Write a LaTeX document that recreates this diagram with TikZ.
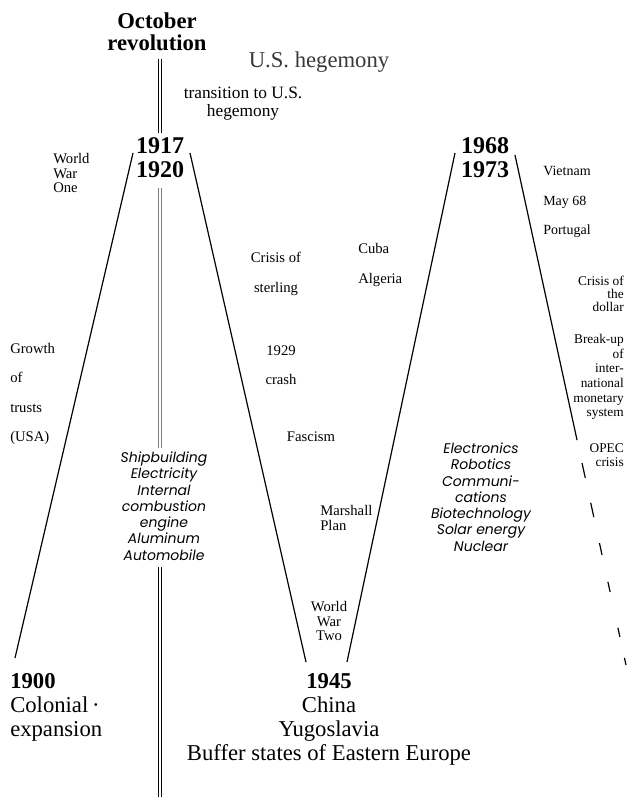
\documentclass[tikz,border=0pt]{standalone}
\usepackage{fontspec}
\setmainfont{Liberation Serif}
\newfontfamily\techfont{Poppins}
\usetikzlibrary{calc}
\begin{document}
\begin{tikzpicture}[x=0.75pt,y=-0.75pt,
    every node/.style={inner sep=0pt},
    trend/.style={line width=0.9pt},
    rail/.style={line width=0.7pt},
    date/.style={align=center,font=\fontsize{18}{18}\selectfont\bfseries},
    big/.style={font=\fontsize{17}{18}\selectfont},
    note/.style={font=\fontsize{11}{11}\selectfont},
    spaced/.style={font=\fontsize{11}{22}\selectfont},
    tech/.style={align=center,font=\techfont\itshape\fontsize{10.5}{12.2}\selectfont}]
    \useasboundingbox (0,0) rectangle (626,797);
    \node[align=center,font=\fontsize{17}{16.5}\selectfont\bfseries] (rev) at (157,32) {October\\revolution};
    \node[big,text=black!78] (hegemony) at (319,62) {U.S. hegemony};
    \node[align=center,font=\fontsize{13}{13.5}\selectfont] (transition) at (243,104) {transition to U.S.\\hegemony};
    \node[date] (d1917) at (160,158) {1917\\1920};
    \node[date] (d1968) at (485,158) {1968\\1973};
    \node[note,align=left,anchor=west] (ww1) at (53,173) {World\\War\\One};
    \node[spaced,align=center] (sterling) at (276,274) {Crisis of\\sterling};
    \node[spaced,align=left,anchor=west] (cuba) at (358,265) {Cuba\\Algeria};
    \node[spaced,align=center] (crash) at (281,365) {1929\\crash};
    \node[note] (fascism) at (311,437) {Fascism};
    \node[spaced,align=left,anchor=west] (trusts) at (10,394) {Growth\\of\\trusts\\(USA)};
    \node[tech] (ship) at (164,506) {Shipbuilding\\Electricity\\Internal\\combustion\\engine\\Aluminum\\Automobile};
    \node[tech] (electronics) at (481,497) {Electronics\\Robotics\\Communi-\\cations\\Biotechnology\\Solar energy\\Nuclear};
    \node[note,align=left,anchor=west] (marshall) at (320,518) {Marshall\\Plan};
    \node[note,align=center] (ww2) at (329,621) {World\\War\\Two};
    \node[big,align=left,anchor=west] (d1900) at (10,707) {\textbf{1900}\\Colonial\,·\\expansion};
    \node[big,align=center] (d1945) at (329,719) {\textbf{1945}\\China\\Yugoslavia\\Buffer states of Eastern Europe};
    \node[font=\fontsize{10.5}{22}\selectfont,align=left,anchor=west] (vietnam) at (543,202) {Vietnam\\May 68\\Portugal};
    \node[font=\fontsize{10}{9.5}\selectfont,align=right,anchor=east] (dollar) at (624,294) {Crisis of\\the\\dollar};
    \node[font=\fontsize{10}{11}\selectfont,align=right,anchor=east] (monetary) at (624,377) {Break-up\\of\\inter-\\national\\monetary\\system};
    \node[font=\fontsize{10}{10}\selectfont,align=right,anchor=east] (opec) at (624,455) {OPEC\\crisis};
    \coordinate (railL) at (158.5,0);
    \coordinate (railR) at (161.5,0);
    \coordinate (a1900) at (15,658);
    \coordinate (a1917) at (133,153);
    \coordinate (b1920) at (190,153);
    \coordinate (a1945) at (306,662);
    \coordinate (b1945) at (347,662);
    \coordinate (a1968) at (455,153);
    \coordinate (b1973) at (515,155);
    \coordinate (fade) at (626,665);
    \foreach \r in {railL,railR}{
        \draw[rail] ($(\r |- rev.south)+(0,8)$) -- ($(\r |- d1917.north)+(0,-5)$);
        \draw[rail,black!50] ($(\r |- d1917.south)+(0,10)$) -- ($(\r |- ship.north)+(0,-4)$);
        \draw[rail] ($(\r |- ship.south)+(0,7)$) -- (\r |- 0,797);
    }
    \draw[trend] (a1900) -- (a1917);
    \draw[trend] (b1920) -- (a1945);
    \draw[trend] (b1945) -- (a1968);
    \draw[trend] (b1973) -- ($(b1973)!0.559!(fade)$);
    \foreach \s/\e in {0.604/0.633,0.682/0.710,0.761/0.784,0.837/0.857,0.927/0.945,0.986/1.0}
        \draw[trend] ($(b1973)!\s!(fade)$) -- ($(b1973)!\e!(fade)$);
\end{tikzpicture}
\end{document}
